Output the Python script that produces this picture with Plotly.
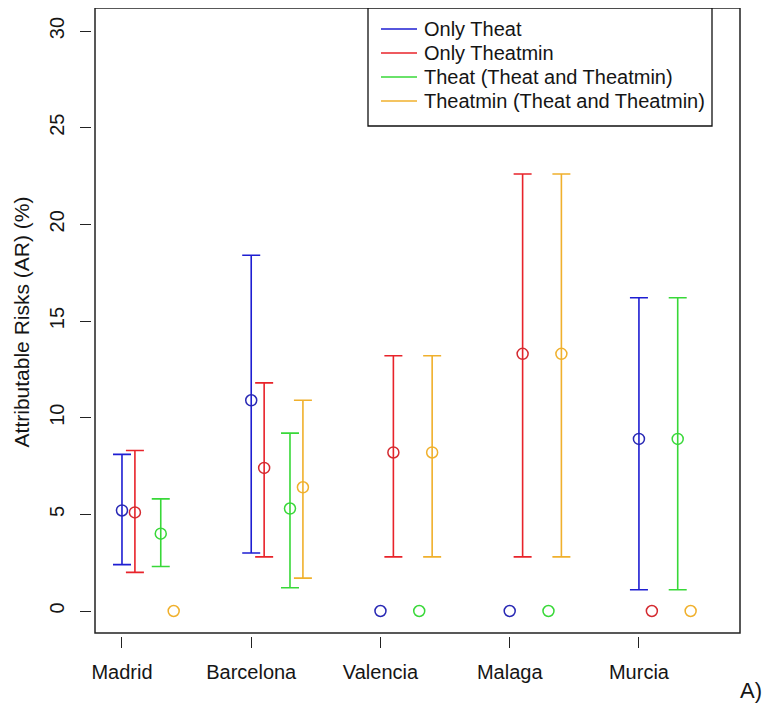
import plotly.graph_objects as go

cities = ["Madrid", "Barcelona", "Valencia", "Malaga", "Murcia"]
series_names = ["Only Theat", "Only Theatmin", "Theat (Theat and Theatmin)", "Theatmin (Theat and Theatmin)"]

only_theat = [5.2, 10.9, 0, 0, 8.9]
only_theat_lo = [2.4, 3.0, None, None, 1.1]
only_theat_hi = [8.1, 18.4, None, None, 16.2]

only_theatmin = [5.1, 7.4, 8.2, 13.3, 0]
only_theatmin_lo = [2.0, 2.8, 2.8, 2.8, None]
only_theatmin_hi = [8.3, 11.8, 13.2, 22.6, None]

theat_both = [4.0, 5.3, 0, 0, 8.9]
theat_both_lo = [2.3, 1.2, None, None, 1.1]
theat_both_hi = [5.8, 9.2, None, None, 16.2]

theatmin_both = [0, 6.4, 8.2, 13.3, 0]
theatmin_both_lo = [None, 1.7, 2.8, 2.8, None]
theatmin_both_hi = [None, 10.9, 13.2, 22.6, None]

y_ticks = [0, 5, 10, 15, 20, 25, 30]

dodge = [0.0, 0.1, 0.3, 0.4]
colors = ["#1e1ed2", "#e8232a", "#38d838", "#f0b02c"]
marker_colors = ["#2828b4", "#d42a30", "#38d838", "#f0b02c"]

all_series = [
    (only_theat, only_theat_lo, only_theat_hi),
    (only_theatmin, only_theatmin_lo, only_theatmin_hi),
    (theat_both, theat_both_lo, theat_both_hi),
    (theatmin_both, theatmin_both_lo, theatmin_both_hi),
]

FONT = "Liberation Sans, Arial, sans-serif"
TXT = "#151515"
fig = go.Figure()

for k, (vals, lo, hi) in enumerate(all_series):
    xe, ye, plus, minus, xn, yn = [], [], [], [], [], []
    for i, (v, l, h) in enumerate(zip(vals, lo, hi)):
        x = i + 1 + dodge[k]
        if l is None:
            xn.append(x); yn.append(v)
        else:
            xe.append(x); ye.append(v); plus.append(h - v); minus.append(v - l)
    mk = dict(symbol="circle-open", size=11, color=marker_colors[k], line=dict(width=1.5))
    fig.add_trace(go.Scatter(
        x=xe, y=ye, mode="markers", name=series_names[k], showlegend=False, marker=mk,
        error_y=dict(type="data", symmetric=False, array=plus, arrayminus=minus,
                     color=colors[k], thickness=1.6, width=9),
    ))
    if xn:
        fig.add_trace(go.Scatter(x=xn, y=yn, mode="markers", name=series_names[k],
                                 showlegend=False, marker=mk))

# The page body adds an 8px margin; layout pixel coords = page coords - 8.
W, H = 762, 698
L, R, T, B = 84, 30, 0, 70
pw, ph = W - L - R, H - T - B

def px(xp):
    return (xp - L) / pw

def py(yp):
    return 1 - (yp - T) / ph

# manual legend (box matches reference's R legend)
box_l, box_r, box_t, box_b = 360, 704, 0, 118
row_y = [21, 45, 69, 93]
shapes = [dict(type="rect", xref="paper", yref="paper",
               x0=3 / pw, x1=1.0, y0=3 / ph, y1=1.0,
               line=dict(color="#222222", width=1.5), layer="below"),
          dict(type="rect", xref="paper", yref="paper",
               x0=px(box_l), x1=px(box_r), y0=py(box_b), y1=py(box_t),
               line=dict(color="#111111", width=1.3), fillcolor="white", layer="below")]
annotations = []
for k, name in enumerate(series_names):
    shapes.append(dict(type="line", xref="paper", yref="paper",
                       x0=px(373), x1=px(409), y0=py(row_y[k]), y1=py(row_y[k]),
                       line=dict(color=colors[k], width=1.5)))
    annotations.append(dict(text=name, xref="paper", yref="paper",
                            x=px(414), y=py(row_y[k]), xanchor="left", yanchor="middle",
                            showarrow=False, font=dict(size=20, family=FONT, color=TXT)))

annotations.append(dict(text="A)", xref="paper", yref="paper",
                        x=px(756), y=py(682), xanchor="right", yanchor="middle",
                        showarrow=False, font=dict(size=22, family=FONT, color=TXT)))

fig.update_layout(
    width=W, height=H, showlegend=False,
    margin=dict(l=L, r=R, t=T, b=B, autoexpand=False),
    paper_bgcolor="white", plot_bgcolor="white",
    font=dict(family=FONT, size=20, color=TXT),
    xaxis=dict(range=[0.768, 5.782], tickvals=[1, 2, 3, 4, 5], ticktext=cities,
               ticks="outside", ticklen=11, tickwidth=1.2, tickcolor="#222222",
               ticklabelstandoff=7,
               showgrid=False, zeroline=False, showline=False, automargin=False,
               tickfont=dict(size=20, family=FONT, color=TXT)),
    yaxis=dict(range=[-1.293, 31.19], tickvals=y_ticks,
               ticks="outside", ticklen=11, tickwidth=1.2, tickcolor="#222222",
               ticklabelstandoff=8,
               showgrid=False, zeroline=False, showline=False, tickangle=-90,
               automargin=False,
               tickfont=dict(size=20, family=FONT, color=TXT),
               title=dict(text="Attributable Risks (AR) (%)", standoff=10,
                          font=dict(size=21, family=FONT, color=TXT))),
    shapes=shapes,
    annotations=annotations,
)

fig.write_html("out.html")
